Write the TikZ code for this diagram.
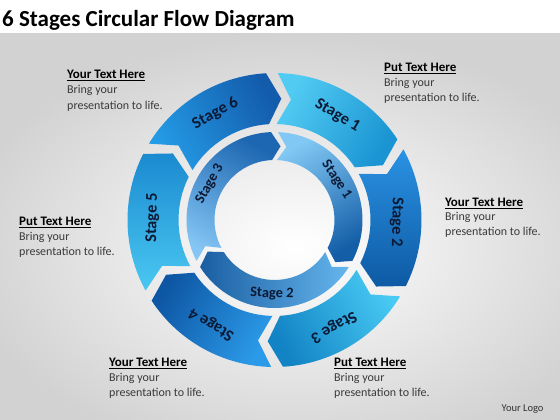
\documentclass[tikz,border=0pt]{standalone}
\usepackage{fontspec}
\setmainfont{Carlito}
\definecolor{bggray}{HTML}{D2D2D2}
\definecolor{bodygray}{HTML}{3A3A3A}
\definecolor{labnavy}{HTML}{0C1A35}
% outer ring colours (light, dark)
\definecolor{oAl}{HTML}{52CBF3}\definecolor{oAd}{HTML}{1A94D2}
\definecolor{oBl}{HTML}{2A92E3}\definecolor{oBd}{HTML}{0E5AA4}
\definecolor{oCl}{HTML}{48CAF3}\definecolor{oCd}{HTML}{1283C4}
\definecolor{oDl}{HTML}{2B9AE8}\definecolor{oDd}{HTML}{0E57A4}
\definecolor{oEl}{HTML}{4AC8F1}\definecolor{oEd}{HTML}{1B8AD0}
\definecolor{oFl}{HTML}{249BE6}\definecolor{oFd}{HTML}{135CAC}
% inner ring colours
\definecolor{iAl}{HTML}{82C8F4}\definecolor{iAd}{HTML}{145EA8}
\definecolor{iBl}{HTML}{66B6EE}\definecolor{iBd}{HTML}{1A5EA2}
\definecolor{iCl}{HTML}{85C6F4}\definecolor{iCd}{HTML}{1C66B2}
\newcommand{\ringseg}[7]{%
  \path[#7] (#5:#1) arc[start angle=#5,end angle=#4,radius=#1]
    -- ({#4-#6}:#3) -- (#4:#2)
    arc[start angle=#4,end angle=#5,radius=#2]
    -- ({#5-#6}:#3) -- cycle;}
\begin{document}
\begin{tikzpicture}[x=1pt,y=1pt,
  head/.style={anchor=base west,inner sep=0pt,font=\fontsize{13}{15}\selectfont\bfseries,text=black},
  body/.style={anchor=base west,inner sep=0pt,font=\fontsize{12}{14}\selectfont,text=bodygray},
  olab/.style={font=\fontsize{16.5}{18}\selectfont\bfseries,text=labnavy,inner sep=0pt},
  ilab/.style={font=\fontsize{14.5}{16}\selectfont\bfseries,text=labnavy,inner sep=0pt}]
\useasboundingbox (0,0) rectangle (560,420);
\fill[white] (0,0) rectangle (560,420);
\shade[inner color=white,outer color=bggray] (-40,-40) rectangle (630,387);
\fill[white] (0,387) rectangle (560,420);
\node[anchor=base west,inner sep=0pt,font=\fontsize{23}{26}\selectfont\bfseries] (title) at (2,393.3) {6 Stages Circular Flow Diagram};
% rings
\begin{scope}[shift={(274.5,200)}]
  % outer ring
  \ringseg{147pt}{96pt}{121.5pt}{33.3}{88.7}{6.5}{top color=oAl,bottom color=oAd,shading angle=60}
  \ringseg{147pt}{96pt}{121.5pt}{-26.7}{28.7}{6.5}{top color=oBl,bottom color=oBd,shading angle=0}
  \ringseg{147pt}{96pt}{121.5pt}{-86.7}{-31.3}{6.5}{top color=oCl,bottom color=oCd,shading angle=-60}
  \ringseg{147pt}{96pt}{121.5pt}{-146.7}{-91.3}{6.5}{top color=oDl,bottom color=oDd,shading angle=-120}
  \ringseg{147pt}{96pt}{121.5pt}{-206.7}{-151.3}{6.5}{top color=oEl,bottom color=oEd,shading angle=-180}
  \ringseg{147pt}{96pt}{121.5pt}{-266.7}{-211.3}{6.5}{top color=oFl,bottom color=oFd,shading angle=120}
  % inner ring
  \ringseg{88pt}{60pt}{74pt}{-27.7}{87.7}{7}{top color=iAl,bottom color=iAd,shading angle=30}
  \ringseg{88pt}{60pt}{74pt}{-147.7}{-32.3}{7}{top color=iBl,bottom color=iBd,shading angle=-90}
  \ringseg{88pt}{60pt}{74pt}{-267.7}{-152.3}{7}{top color=iCl,bottom color=iCd,shading angle=150}
  % outer labels
  \node[olab,rotate=-31] (o1) at (59:122pt) {Stage 1};
  \node[olab,rotate=-91] (o2) at (-1:122pt) {Stage 2};
  \node[olab,rotate=-151] (o3) at (-61:122pt) {Stage 3};
  \node[olab,rotate=149] (o4) at (-121:122pt) {Stage 4};
  \node[olab,rotate=89] (o5) at (179:122pt) {Stage 5};
  \node[olab,rotate=29] (o6) at (119:122pt) {Stage 6};
  % inner labels
  \node[ilab,rotate=-57] (i1) at (33:74pt) {Stage 1};
  \node[ilab,rotate=-2] (i2) at (-92:74pt) {Stage 2};
  \node[ilab,rotate=61] (i3) at (151:74pt) {Stage 3};
\end{scope}
% callouts (y = 420 - pixel y)
\node[head] (c1h) at (67,341) {\underline{Your Text Here}};
\node[body] (c1a) at (67,326) {Bring your};
\node[body] (c1b) at (67,310) {presentation to life.};
\node[head] (c2h) at (384,348) {\underline{Put Text Here}};
\node[body] (c2a) at (384,333) {Bring your};
\node[body] (c2b) at (384,318) {presentation to life.};
\node[head] (c3h) at (19,194.5) {\underline{Put Text Here}};
\node[body] (c3a) at (19,179) {Bring your};
\node[body] (c3b) at (19,164) {presentation to life.};
\node[head] (c4h) at (445,213.5) {\underline{Your Text Here}};
\node[body] (c4a) at (445,199) {Bring your};
\node[body] (c4b) at (445,184) {presentation to life.};
\node[head] (c5h) at (109,53.5) {\underline{Your Text Here}};
\node[body] (c5a) at (109,38.5) {Bring your};
\node[body] (c5b) at (109,23) {presentation to life.};
\node[head] (c6h) at (334,53.5) {\underline{Put Text Here}};
\node[body] (c6a) at (334,38.5) {Bring your};
\node[body] (c6b) at (334,23) {presentation to life.};
\node[anchor=base west,inner sep=0pt,font=\fontsize{10.5}{12}\selectfont,text=black!80] (logo) at (501.5,8.3) {Your Logo};
\end{tikzpicture}
\end{document}
